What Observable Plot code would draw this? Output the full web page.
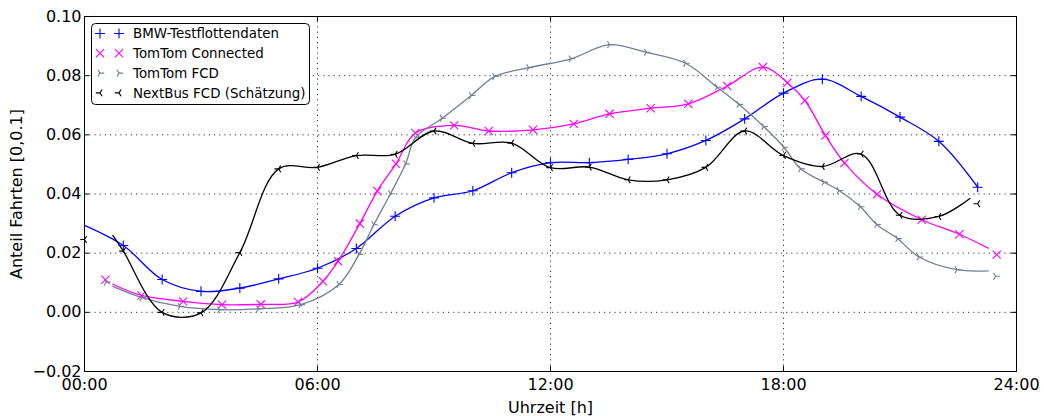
<!DOCTYPE html>
<html><head><meta charset="utf-8">
<script src="https://cdn.jsdelivr.net/npm/d3@7"></script>
<script src="https://cdn.jsdelivr.net/npm/@observablehq/plot@0.6"></script>
<style>
html,body{margin:0;padding:0;background:#fff;}
#wrap{position:relative;width:1044px;height:416px;}
#legend{position:absolute;left:91px;top:23px;}
</style></head><body><div id="wrap"></div>
<script>
// ---- data ----
const xTickHours = [0, 6, 12, 18, 24];
const yTickValues = [-0.02, 0, 0.02, 0.04, 0.06, 0.08, 0.10];
const seriesNames = ["BMW-Testflottendaten", "TomTom Connected", "TomTom FCD", "NextBus FCD (Schätzung)"];

const bmwHours = [1,2,3,4,5,6,7,8,9,10,11,12,13,14,15,16,17,18,19,20,21,22,23];
const bmwValues = [0.0226,0.0111,0.0071,0.0082,0.0113,0.0149,0.0216,0.0325,0.0387,0.0411,0.0472,0.0506,0.0506,0.0517,0.0536,0.0581,0.0654,0.0741,0.0788,0.0730,0.0660,0.0578,0.0423];
const bmwLineStart = [0, 0.0294];
const bmwLineEnd = [23, 0.0423];

const ttcHours = [0.54,1.47,2.54,3.54,4.54,5.5,6.14,6.53,7.09,7.54,8.02,8.52,9.52,10.41,11.55,12.6,13.52,14.58,15.55,16.55,17.47,18.1,18.55,19.08,19.57,20.41,21.56,22.53,23.49];
const ttcValues = [0.0110,0.0057,0.0037,0.0026,0.0027,0.0035,0.0105,0.0173,0.0300,0.0410,0.0502,0.0606,0.0632,0.0613,0.0617,0.0637,0.0671,0.0690,0.0705,0.0765,0.0829,0.0776,0.0716,0.0598,0.0505,0.0399,0.0313,0.0264,0.0195];
const ttcLineStart = [0.73, 0.0095];
const ttcLineEnd = [23.27, 0.0217];

const ttfHours = [0.56,1.48,2.46,3.48,4.48,5.57,6.55,7.07,7.45,7.88,8.27,8.52,9.21,9.96,10.56,11.44,12.53,13.52,14.47,15.48,16.29,16.85,17.49,18.01,18.44,19.04,19.43,19.98,20.4,20.94,21.49,22.47,23.46];
const ttfValues = [0.0102,0.0050,0.0020,0.0009,0.0012,0.0026,0.0094,0.0196,0.0296,0.0401,0.0502,0.0590,0.0656,0.0733,0.0797,0.0827,0.0857,0.0905,0.0879,0.0842,0.0761,0.0703,0.0628,0.0558,0.0485,0.0440,0.0412,0.0357,0.0297,0.0249,0.0187,0.0144,0.0122];
const ttfLineStart = [0.73, 0.0088];
const ttfLineEnd = [23.27, 0.0140];

const nbHours = [0,1,2,3,4,5,6,7,8,9,10,11,12,13,14,15,16,17,18,19,20,21,22,23];
const nbValues = [0.0246,0.0207,0.0000,-0.0002,0.0202,0.0485,0.0490,0.0530,0.0534,0.0613,0.0571,0.0572,0.0489,0.0491,0.0448,0.0448,0.0490,0.0613,0.0530,0.0493,0.0535,0.0328,0.0324,0.0367];
const nbLineStart = [0.73, 0.0260];
const nbLineEnd = [22.8, 0.0385];

// ---- styles ----
const triRight = {draw(ctx, size) {const r = Math.sqrt(size / Math.PI);
  ctx.moveTo(0,0); ctx.lineTo(r,0); ctx.moveTo(0,0); ctx.lineTo(-0.5*r,-0.8*r); ctx.moveTo(0,0); ctx.lineTo(-0.5*r,0.8*r);}};
const triLeft = {draw(ctx, size) {const r = Math.sqrt(size / Math.PI);
  ctx.moveTo(0,0); ctx.lineTo(-r,0); ctx.moveTo(0,0); ctx.lineTo(0.5*r,-0.8*r); ctx.moveTo(0,0); ctx.lineTo(0.5*r,0.8*r);}};
const styles = [
  {color: "#0000ff", symbol: d3.symbolPlus, r: 3.3},
  {color: "#ff00ff", symbol: d3.symbolTimes, r: 3.8},
  {color: "#708090", symbol: triRight, r: 4.2},
  {color: "#000000", symbol: triLeft, r: 4.2}
];

function build(name, hours, values, start, end) {
  const markers = hours.map((h, i) => ({series: name, h, v: values[i]}));
  const inner = markers.filter(d => d.h > start[0] && d.h < end[0]);
  const line = [{series: name, h: start[0], v: start[1]}, ...inner, {series: name, h: end[0], v: end[1]}];
  return {markers, line};
}
const built = [
  build(seriesNames[0], bmwHours, bmwValues, bmwLineStart, bmwLineEnd),
  build(seriesNames[1], ttcHours, ttcValues, ttcLineStart, ttcLineEnd),
  build(seriesNames[2], ttfHours, ttfValues, ttfLineStart, ttfLineEnd),
  build(seriesNames[3], nbHours, nbValues, nbLineStart, nbLineEnd)
];

const fmtX = h => String(h).padStart(2, "0") + ":00";
const fmtY = d3.format(".2f");
const plotH = 416 - 16 - 45, plotW = 1044 - 84 - 28;

const seriesMarks = built.flatMap((b, i) => [
  Plot.line(b.line, {x: "h", y: "v", stroke: styles[i].color, strokeWidth: 1.3, curve: "catmull-rom"}),
  Plot.dot(b.markers, {x: "h", y: "v", symbol: styles[i].symbol, r: styles[i].r, stroke: styles[i].color, fill: "none", strokeWidth: 1.1})
]);

const chart = Plot.plot({
  width: 1044, height: 416,
  marginLeft: 84, marginRight: 28, marginTop: 16, marginBottom: 45,
  style: {fontFamily: "'DejaVu Sans', sans-serif", fontSize: "16px", color: "#000", background: "#fff", overflow: "visible"},
  x: {domain: [0, 24]},
  y: {domain: [-0.02, 0.10]},
  marks: [
    Plot.gridX(xTickHours, {stroke: "#000", strokeOpacity: 0.8, strokeDasharray: "1.2,4"}),
    Plot.gridY(yTickValues, {stroke: "#000", strokeOpacity: 0.8, strokeDasharray: "1.2,4"}),
    Plot.tickX(xTickHours, {x: d => d, stroke: "#000", insetTop: plotH - 5}),
    Plot.tickX(xTickHours, {x: d => d, stroke: "#000", insetBottom: plotH - 5}),
    Plot.tickY(yTickValues, {y: d => d, stroke: "#000", insetRight: plotW - 5}),
    Plot.tickY(yTickValues, {y: d => d, stroke: "#000", insetLeft: plotW - 5}),
    ...seriesMarks,
    Plot.axisX(xTickHours, {tickSize: 0, tickPadding: 7, tickFormat: fmtX, fontSize: 16,
      label: "Uhrzeit [h]", labelAnchor: "center", labelOffset: 41, labelArrow: "none"}),
    Plot.axisY(yTickValues, {tickSize: 0, tickPadding: 3, tickFormat: fmtY, fontSize: 16,
      label: "Anteil Fahrten [0,0.1]", labelAnchor: "center", labelOffset: 74, labelArrow: "none"}),
    Plot.frame({stroke: "#000", strokeWidth: 1})
  ]
});
document.getElementById("wrap").appendChild(chart);

// ---- legend ----
const leg = d3.select("#wrap").append("svg").attr("id", "legend").attr("width", 220).attr("height", 83)
  .style("font-family", "'DejaVu Sans', sans-serif").style("font-size", "13.4px");
leg.append("rect").attr("x", 0.5).attr("y", 0.5).attr("width", 218).attr("height", 81).attr("rx", 4)
  .attr("fill", "#fff").attr("stroke", "#000").attr("stroke-width", 1);
seriesNames.forEach((name, i) => {
  const cy = 10.5 + i * 19.8;
  const s = styles[i];
  [9, 28].forEach(cx => leg.append("path")
    .attr("d", d3.symbol(s.symbol, Math.PI * s.r * s.r)())
    .attr("transform", `translate(${cx},${cy})`)
    .attr("fill", "none").attr("stroke", s.color).attr("stroke-width", 1.1));
  leg.append("text").attr("x", 42).attr("y", cy).attr("dy", "0.35em").attr("fill", "#000").text(name);
});
</script></body></html>
